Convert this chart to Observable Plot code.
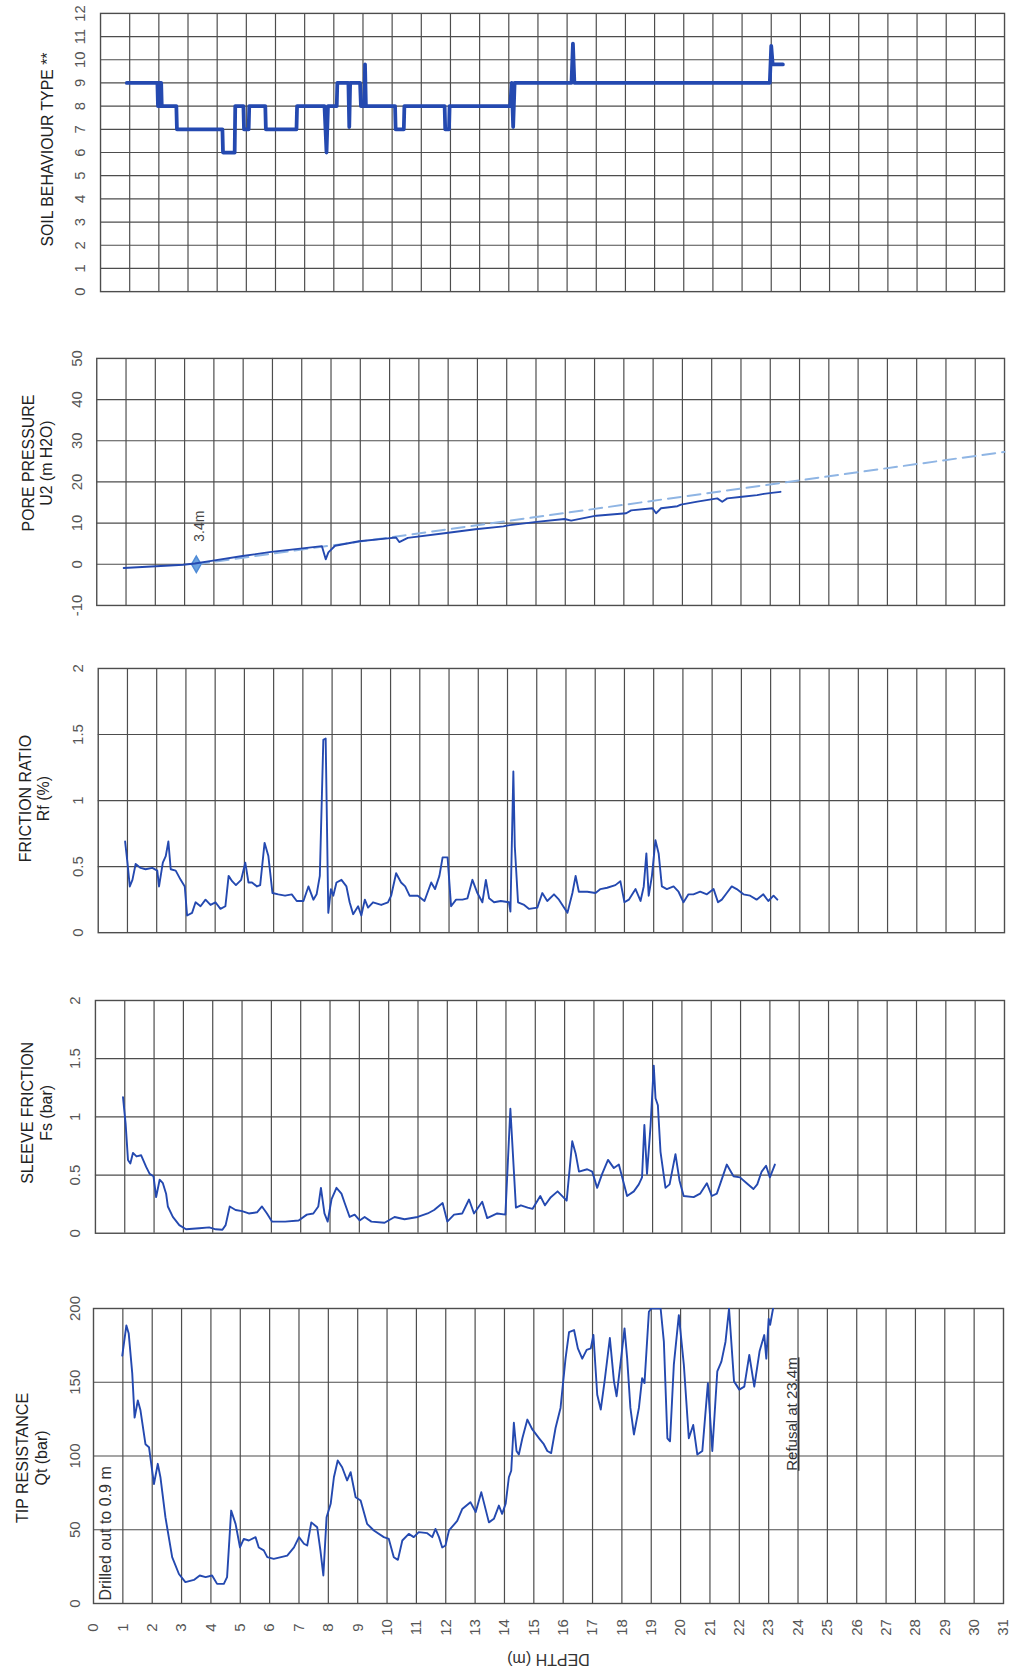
<!DOCTYPE html>
<html><head><meta charset="utf-8">
<script src="https://cdn.jsdelivr.net/npm/d3@7"></script>
<script src="https://cdn.jsdelivr.net/npm/@observablehq/plot@0.6"></script>
<style>
html,body{margin:0;padding:0;background:#fff;}
#page{position:relative;width:1010px;height:1675px;overflow:hidden;background:#fff;font-family:"Liberation Sans",Arial,sans-serif;}
.panel{position:absolute;left:0;}
</style></head><body><div id="page"></div>
<script>
// ---------- DATA (depth m, value) ----------
const depthTicks = d3.range(0, 32);
const sbtTicks = d3.range(0, 13);
const poreTicks = [-10, 0, 10, 20, 30, 40, 50];
const ratioTicks = [0, 0.5, 1, 1.5, 2];
const sleeveTicks = [0, 0.5, 1, 1.5, 2];
const tipTicks = [0, 50, 100, 150, 200];

const soilType = [[0.9,9],[1.95,9],[1.97,8],[1.99,9],[2.01,8],[2.03,9],[2.06,8],[2.08,9],[2.1,8],[2.6,8],[2.62,7],[4.18,7],[4.2,6],[4.6,6],[4.62,8],[4.9,8],[4.92,7],[5.08,7],[5.1,8],[5.65,8],[5.67,7],[6.72,7],[6.74,8],[7.68,8],[7.75,6],[7.8,8],[8.1,8],[8.12,9],[8.5,9],[8.53,7.1],[8.56,9],[8.9,9],[8.93,8],[9.05,8],[9.07,9.8],[9.1,8],[10.1,8],[10.12,7],[10.4,7],[10.42,8],[11.8,8],[11.82,7],[11.95,7],[11.97,8],[14.05,8],[14.1,9],[14.15,7.1],[14.2,9],[16.15,9],[16.2,10.7],[16.25,9],[22.95,9],[23.0,10.6],[23.05,9.8],[23.4,9.8]];

const porePressure = [[0.92,-0.9],[1.71,-0.6],[2.5,-0.3],[2.95,-0.1],[3.35,0.2],[3.97,0.9],[4.98,2.0],[5.96,3.0],[6.95,3.8],[7.69,4.4],[7.82,1.2],[7.91,2.9],[8.14,4.5],[8.96,5.6],[9.94,6.3],[10.22,6.5],[10.33,5.4],[10.62,6.4],[11.94,7.6],[12.93,8.5],[13.89,9.2],[14.0,9.4],[15.02,10.3],[15.98,11.0],[16.2,10.6],[17.06,11.8],[18.08,12.4],[18.25,13.1],[18.98,13.6],[19.1,12.4],[19.27,13.6],[19.83,14.1],[19.95,14.5],[20.51,15.2],[21.19,16.0],[21.36,15.2],[21.53,16.0],[22.04,16.4],[22.55,16.8],[22.78,17.1],[23.12,17.4],[23.35,17.6]];
const hydrostatic = [[3.4,0],[31,27.3]];
const waterLevel = [[3.4,0]];

const frictionRatio = [[0.92,0.69],[1.0,0.53],[1.08,0.35],[1.17,0.4],[1.28,0.52],[1.45,0.49],[1.62,0.48],[1.85,0.49],[2.02,0.47],[2.08,0.35],[2.21,0.53],[2.31,0.58],[2.4,0.69],[2.48,0.48],[2.65,0.47],[2.82,0.4],[2.96,0.35],[3.04,0.13],[3.21,0.15],[3.33,0.23],[3.5,0.2],[3.67,0.25],[3.84,0.21],[4.01,0.23],[4.18,0.18],[4.35,0.2],[4.46,0.43],[4.58,0.39],[4.71,0.36],[4.89,0.4],[5.03,0.53],[5.14,0.38],[5.26,0.38],[5.43,0.35],[5.54,0.36],[5.69,0.68],[5.82,0.58],[5.96,0.3],[6.16,0.29],[6.39,0.28],[6.62,0.29],[6.79,0.24],[7.02,0.24],[7.19,0.35],[7.36,0.25],[7.47,0.29],[7.58,0.43],[7.7,1.46],[7.78,1.47],[7.87,0.15],[7.96,0.33],[8.04,0.28],[8.15,0.38],[8.32,0.4],[8.49,0.35],[8.6,0.23],[8.72,0.14],[8.89,0.2],[9.0,0.13],[9.12,0.25],[9.23,0.19],[9.4,0.23],[9.68,0.21],[9.91,0.23],[10.02,0.28],[10.19,0.45],[10.36,0.38],[10.5,0.35],[10.65,0.28],[10.93,0.28],[11.16,0.24],[11.39,0.38],[11.52,0.33],[11.67,0.43],[11.78,0.57],[11.95,0.57],[12.07,0.2],[12.24,0.25],[12.46,0.25],[12.63,0.26],[12.8,0.4],[12.97,0.3],[13.14,0.23],[13.26,0.4],[13.37,0.26],[13.54,0.23],[13.77,0.24],[14.05,0.23],[14.1,0.16],[14.2,1.22],[14.25,0.65],[14.36,0.23],[14.57,0.21],[14.74,0.18],[15.02,0.19],[15.19,0.3],[15.36,0.24],[15.59,0.29],[15.76,0.25],[16.05,0.15],[16.22,0.3],[16.33,0.43],[16.44,0.31],[16.73,0.31],[17.01,0.3],[17.18,0.33],[17.41,0.34],[17.69,0.36],[17.86,0.39],[18.0,0.23],[18.15,0.25],[18.38,0.33],[18.55,0.24],[18.66,0.35],[18.75,0.6],[18.83,0.28],[18.94,0.43],[19.06,0.7],[19.17,0.6],[19.28,0.35],[19.45,0.33],[19.68,0.35],[19.85,0.31],[20.02,0.23],[20.19,0.29],[20.36,0.29],[20.59,0.31],[20.82,0.29],[21.05,0.33],[21.2,0.23],[21.33,0.25],[21.5,0.3],[21.67,0.35],[21.84,0.33],[22.07,0.29],[22.3,0.28],[22.52,0.25],[22.75,0.29],[22.92,0.24],[23.1,0.28],[23.23,0.25]];

const sleeveFriction = [[0.94,1.17],[1.03,0.94],[1.11,0.63],[1.19,0.6],[1.28,0.69],[1.4,0.66],[1.56,0.67],[1.73,0.57],[1.85,0.51],[1.98,0.49],[2.07,0.31],[2.19,0.46],[2.3,0.43],[2.41,0.34],[2.47,0.23],[2.64,0.14],[2.86,0.07],[3.09,0.034],[3.54,0.043],[3.88,0.05],[4.1,0.034],[4.33,0.03],[4.44,0.07],[4.58,0.23],[4.78,0.2],[5.0,0.19],[5.23,0.17],[5.51,0.18],[5.68,0.23],[5.85,0.17],[6.02,0.1],[6.47,0.1],[6.93,0.11],[7.21,0.16],[7.43,0.17],[7.6,0.23],[7.69,0.39],[7.81,0.17],[7.92,0.1],[8.05,0.29],[8.22,0.39],[8.39,0.34],[8.5,0.26],[8.67,0.14],[8.84,0.16],[9.01,0.11],[9.18,0.14],[9.41,0.1],[9.86,0.09],[10.2,0.14],[10.54,0.12],[10.99,0.14],[11.33,0.17],[11.55,0.2],[11.84,0.26],[12.0,0.1],[12.23,0.16],[12.51,0.17],[12.74,0.29],[12.91,0.17],[13.19,0.27],[13.36,0.13],[13.7,0.17],[13.98,0.16],[14.15,1.07],[14.34,0.22],[14.51,0.24],[14.74,0.22],[14.91,0.21],[15.17,0.32],[15.33,0.24],[15.53,0.31],[15.76,0.36],[16.07,0.28],[16.26,0.79],[16.38,0.68],[16.49,0.53],[16.77,0.55],[16.94,0.53],[17.11,0.39],[17.28,0.51],[17.48,0.63],[17.68,0.56],[17.85,0.59],[18.13,0.32],[18.36,0.36],[18.53,0.42],[18.64,0.48],[18.72,0.93],[18.81,0.51],[18.93,0.92],[19.04,1.44],[19.1,1.16],[19.18,1.1],[19.27,0.7],[19.44,0.39],[19.58,0.42],[19.78,0.68],[19.92,0.45],[20.06,0.32],[20.4,0.31],[20.62,0.34],[20.85,0.43],[21.02,0.32],[21.19,0.34],[21.3,0.42],[21.53,0.59],[21.76,0.49],[21.98,0.48],[22.21,0.43],[22.44,0.38],[22.57,0.42],[22.72,0.53],[22.87,0.58],[23.0,0.48],[23.17,0.59]];

const tipResistance = [[0.98,168],[1.12,188.5],[1.2,183],[1.32,156],[1.4,126],[1.51,137.6],[1.6,131],[1.77,108],[1.89,106],[2.06,81],[2.19,94.7],[2.28,85.6],[2.45,58.5],[2.68,31.4],[2.91,20],[3.13,14.5],[3.42,16],[3.62,19],[3.82,17.9],[4.04,19],[4.21,13.3],[4.44,13.3],[4.55,17.9],[4.69,63],[4.84,54],[4.99,38],[5.12,43.8],[5.29,42.7],[5.52,45],[5.63,38],[5.8,36],[5.92,31.4],[6.14,30.3],[6.6,32.5],[6.83,38],[7.0,45],[7.17,40.5],[7.28,39.3],[7.42,55],[7.62,51.7],[7.73,36],[7.83,19],[7.94,58.5],[8.08,67.6],[8.19,85.6],[8.32,97],[8.47,92.4],[8.64,83.4],[8.76,89],[8.93,72],[9.1,69.8],[9.32,54],[9.55,49.5],[9.89,45],[10.06,43.8],[10.23,31.4],[10.37,29.6],[10.52,42.7],[10.74,47.2],[10.91,45],[11.08,48.4],[11.37,47.7],[11.54,45],[11.65,50.6],[11.77,45],[11.88,38],[11.99,39.3],[12.11,49.5],[12.39,56],[12.56,64],[12.84,68.7],[13.02,62],[13.21,75.5],[13.47,55],[13.64,57.4],[13.81,66.4],[13.92,60.8],[14.04,67.6],[14.15,85.6],[14.23,90],[14.32,122.5],[14.41,103.4],[14.49,101],[14.61,112],[14.78,124.7],[14.95,118],[15.18,112],[15.34,108],[15.46,103.4],[15.59,102],[15.74,119],[15.91,132.6],[16.08,166],[16.2,184],[16.37,185.4],[16.5,173],[16.65,166],[16.8,172],[16.94,173],[17.03,182],[17.16,141.5],[17.28,131.5],[17.41,150.6],[17.59,180],[17.73,150.6],[17.82,140.5],[17.96,164],[18.09,186.5],[18.18,166],[18.29,132.6],[18.41,114.6],[18.58,132.6],[18.69,152.8],[18.77,149.4],[18.92,197.8],[19.0,200],[19.32,200],[19.43,177.5],[19.55,112],[19.64,110],[19.77,162],[19.94,195.5],[20.11,162],[20.28,112],[20.43,121],[20.57,101],[20.74,103.4],[20.93,149.4],[21.08,103.4],[21.25,157.3],[21.39,164],[21.53,177.5],[21.65,200],[21.82,150.6],[22.0,145],[22.17,147],[22.34,168.5],[22.51,147],[22.69,171],[22.85,182],[22.92,166],[23.0,193],[23.05,189],[23.15,200]];

// ---------- STYLE ----------
const FONT = "Liberation Sans, Arial, sans-serif";
const BLUE = "#2449b0";
const GRID = "#4d4d4d";
const LABEL = "#555";

function panel(cfg) {
  const mt = 10;
  const mb = cfg.mb || 12;
  const frameH = cfg.bottom - cfg.top;
  const W = Math.round(cfg.L + 31 * cfg.s + 6);
  const H = mt + frameH + mb;
  const [y0, y1] = cfg.yDomain;
  const innerTicks = cfg.yTicks.filter(t => t !== y0 && t !== y1);
  const marks = [
    Plot.ruleX(depthTicks.filter(d => d > 0 && d < 31), {x: d => d, stroke: GRID, strokeWidth: 1.2}),
    Plot.ruleY(innerTicks, {y: d => d, stroke: GRID, strokeWidth: 1.2}),
    Plot.frame({stroke: GRID, strokeWidth: 1.4}),
    Plot.text(cfg.yTicks, {y: d => d, text: d => String(d), frameAnchor: "left", dx: cfg.tickDx, rotate: -90, fontSize: 15, fill: LABEL, fontFamily: FONT, textAnchor: "middle", lineAnchor: "middle"}),
    Plot.text([cfg.title], {frameAnchor: "left", dx: cfg.titleDx, dy: cfg.titleDy, rotate: -90, fontSize: 16, fill: "#222", fontFamily: FONT, textAnchor: "middle", lineAnchor: "middle", lineHeight: 1.15}),
    ...(cfg.extra || []),
    Plot.line(cfg.data, {x: d => d[0], y: d => d[1], stroke: BLUE, strokeWidth: cfg.lineWidth || 1.9, strokeLinejoin: "round", clip: true})
  ];
  if (cfg.depthAxis) {
    marks.push(Plot.text(depthTicks, {x: d => d, text: d => String(d), frameAnchor: "bottom", dy: 24, rotate: -90, fontSize: 15, fill: LABEL, fontFamily: FONT, textAnchor: "middle", lineAnchor: "middle"}));
    marks.push(Plot.text(["DEPTH (m)"], {frameAnchor: "bottom", dy: 56, rotate: 180, fontSize: 16, fill: "#333", fontFamily: FONT, textAnchor: "middle", lineAnchor: "middle"}));
  }
  const fig = Plot.plot({
    width: W, height: H,
    marginLeft: cfg.L, marginRight: 6, marginTop: mt, marginBottom: mb,
    x: {domain: [0, 31], axis: null},
    y: {domain: cfg.yDomain, axis: null},
    style: {fontFamily: FONT, background: "transparent", overflow: "visible"},
    marks
  });
  fig.classList.add("panel");
  fig.style.top = (cfg.top - mt) + "px";
  document.getElementById("page").appendChild(fig);
  return fig;
}

panel({data: soilType, yDomain: [0, 12], yTicks: sbtTicks, top: 13, bottom: 294, L: 101, s: 29.45,
  title: "SOIL BEHAVIOUR TYPE **", titleDx: -54, titleDy: -3, tickDx: -20, lineWidth: 3.8});

panel({data: porePressure, yDomain: [-10, 50], yTicks: poreTicks, top: 358, bottom: 607, L: 97, s: 29.5,
  title: "PORE PRESSURE\nU2 (m H2O)", titleDx: -60, titleDy: -19, tickDx: -20,
  extra: [
    Plot.line(hydrostatic, {x: d => d[0], y: d => d[1], stroke: "#8fb5e4", strokeWidth: 2, strokeDasharray: "13,7"}),
    Plot.dot(waterLevel, {x: d => d[0], y: d => d[1], symbol: "diamond", r: 5, fill: "#6aa2e0", stroke: "#4f8bd6"}),
    Plot.text(waterLevel, {x: d => d[0] + 0.1, y: d => d[1] + 5.5, text: () => "3.4m", rotate: -90, fontSize: 14, fill: "#444", fontFamily: FONT, textAnchor: "start", lineAnchor: "middle"})
  ]});

panel({data: frictionRatio, yDomain: [0, 2], yTicks: ratioTicks, top: 668, bottom: 933, L: 98, s: 29.32,
  title: "FRICTION RATIO\nRf (%)", titleDx: -64, titleDy: -2, tickDx: -20});

panel({data: sleeveFriction, yDomain: [0, 2], yTicks: sleeveTicks, top: 1000, bottom: 1233, L: 95, s: 29.35,
  title: "SLEEVE FRICTION\nFs (bar)", titleDx: -59, titleDy: -4, tickDx: -20});

const tipFig = panel({data: tipResistance, yDomain: [0, 200], yTicks: tipTicks, top: 1308, bottom: 1603, L: 93, s: 29.35,
  title: "TIP RESISTANCE\nQt (bar)", titleDx: -62, titleDy: 2, tickDx: -18, mb: 72, depthAxis: true,
  extra: [
    Plot.text(["Drilled out to 0.9 m"], {x: () => 0.42, y: () => 2, rotate: -90, fontSize: 16, fill: "#333", fontFamily: FONT, textAnchor: "start", lineAnchor: "middle"}),
    Plot.text(["Refusal at 23.4m"], {x: () => 23.8, y: () => 90, rotate: -90, fontSize: 15, fill: "#333", fontFamily: FONT, textAnchor: "start", lineAnchor: "middle"})
  ]});

d3.select(tipFig).selectAll("text").filter(function() { return this.textContent === "Refusal at 23.4m"; })
  .style("text-decoration", "underline");
</script>
</body></html>
